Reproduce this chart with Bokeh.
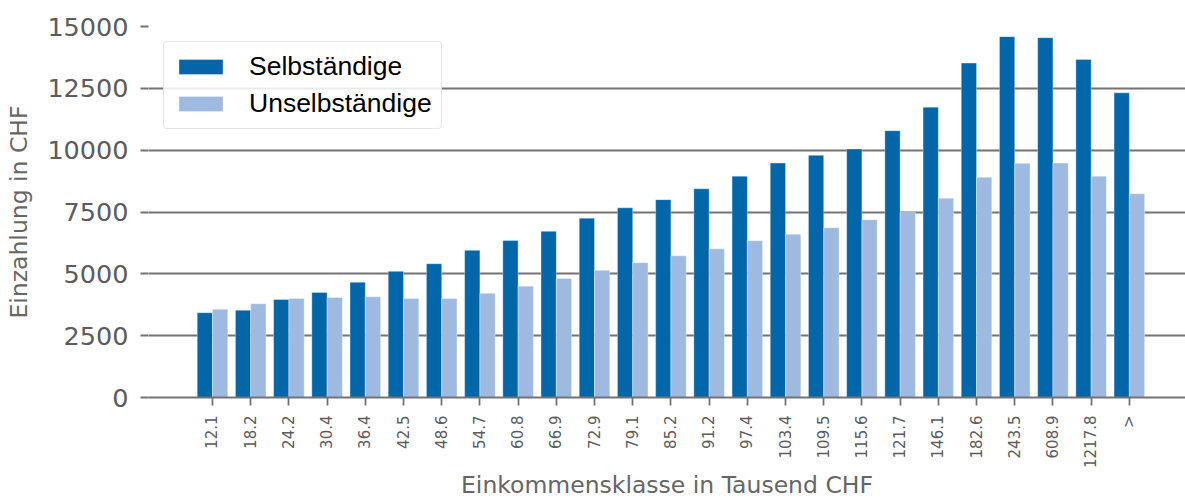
import math
from bokeh.plotting import figure
from bokeh.models import Range1d, FixedTicker, ColumnDataSource, Legend, LegendItem
from bokeh.transform import dodge
from bokeh.embed import file_html
from bokeh.resources import INLINE

categories = ["12.1", "18.2", "24.2", "30.4", "36.4", "42.5", "48.6", "54.7", "60.8",
              "66.9", "72.9", "79.1", "85.2", "91.2", "97.4", "103.4", "109.5", "115.6",
              "121.7", "146.1", "182.6", "243.5", "608.9", "1217.8", ">"]
selbstaendige = [3430, 3530, 3960, 4250, 4660, 5100, 5410, 5950, 6350, 6720, 7250, 7670,
                 8000, 8440, 8950, 9480, 9790, 10050, 10790, 11740, 13520, 14590, 14550,
                 13670, 12320]
unselbstaendige = [3570, 3790, 4005, 4045, 4075, 4005, 4005, 4210, 4500, 4810, 5140, 5450,
                   5730, 6010, 6340, 6600, 6860, 7190, 7480, 8060, 8910, 9470, 9480, 8950,
                   8240]
y_ticks = [0, 2500, 5000, 7500, 10000, 12500, 15000]

idx = list(range(len(categories)))
source = ColumnDataSource(dict(idx=idx, cat=categories, s=selbstaendige, u=unselbstaendige))

DARK = "#0266A9"
LIGHT = "#9EBAE0"
GRID = "#737373"
TXT = "#5c5c5c"

X0, X1 = -1.675, 25.47
Y0, Y1 = 0, 15000

p = figure(width=1185, height=501, output_backend="svg", toolbar_location=None,
           x_range=Range1d(X0, X1), y_range=Range1d(Y0, Y1),
           min_border_left=148, min_border_right=0, min_border_top=26, min_border_bottom=104)
p.outline_line_color = None
p.background_fill_color = "white"
p.border_fill_color = "white"

r1 = p.vbar(x=dodge("idx", -0.2), top="s", width=0.4, bottom=0, source=source,
            fill_color=DARK, line_color="white", line_alpha=0.35, line_width=1)
r2 = p.vbar(x=dodge("idx", 0.2), top="u", width=0.4, bottom=0, source=source,
            fill_color=LIGHT, line_color="white", line_alpha=0.35, line_width=1)

# grid
p.xgrid.grid_line_color = None
p.ygrid.grid_line_color = GRID
p.ygrid.grid_line_width = 1.8
p.ygrid.ticker = FixedTicker(ticks=y_ticks)

# y axis
p.yaxis.ticker = FixedTicker(ticks=y_ticks)
p.yaxis.axis_line_color = None
p.yaxis.major_tick_out = 8
p.yaxis.major_tick_in = 0
p.yaxis.minor_tick_line_color = None
p.yaxis.major_tick_line_color = GRID
p.yaxis.major_tick_line_width = 1.8
p.yaxis.major_label_text_font = "DejaVu Sans"
p.yaxis.major_label_text_font_size = "25.5px"
p.yaxis.major_label_text_color = TXT
p.yaxis.major_label_standoff = 12
p.yaxis.axis_label = "Einzahlung in CHF"
p.yaxis.axis_label_text_font = "DejaVu Sans"
p.yaxis.axis_label_text_font_size = "23.5px"
p.yaxis.axis_label_text_font_style = "normal"
p.yaxis.axis_label_text_color = "#666666"
p.yaxis.axis_label_standoff = 11

# x axis
p.xaxis.ticker = FixedTicker(ticks=idx)
p.xaxis.major_label_overrides = {i: c for i, c in enumerate(categories)}
p.xaxis.major_label_orientation = math.pi / 2
p.xaxis.axis_line_color = GRID
p.xaxis.axis_line_width = 1.8
p.xaxis.major_tick_out = 8
p.xaxis.major_tick_in = 0
p.xaxis.minor_tick_line_color = None
p.xaxis.major_tick_line_color = GRID
p.xaxis.major_tick_line_width = 1.8
p.xaxis.major_label_text_font = "DejaVu Sans"
p.xaxis.major_label_text_font_size = "15px"
p.xaxis.major_label_text_color = TXT
p.xaxis.major_label_standoff = 10
p.xaxis.axis_label = "Einkommensklasse in Tausend CHF"
p.xaxis.axis_label_text_font = "DejaVu Sans"
p.xaxis.axis_label_text_font_size = "23.5px"
p.xaxis.axis_label_text_font_style = "normal"
p.xaxis.axis_label_text_color = "#666666"
p.xaxis.axis_label_standoff = 0

legend = Legend(items=[LegendItem(label="Selbständige", renderers=[r1]),
                       LegendItem(label="Unselbständige", renderers=[r2])],
                location="top_left", margin=15)
legend.label_text_font = "Liberation Sans"
legend.label_text_font_size = "26.5px"
legend.label_text_color = "black"
legend.glyph_width = 55
legend.glyph_height = 19
legend.label_standoff = 21
legend.padding = 9
legend.spacing = 6
legend.label_height = 31
legend.border_line_color = "#cccccc"
legend.border_line_width = 1.5
legend.background_fill_alpha = 0.85
if "border_radius" in Legend.properties():
    legend.border_radius = 4
p.add_layout(legend)

open("out.html", "w").write(file_html(p, INLINE))
